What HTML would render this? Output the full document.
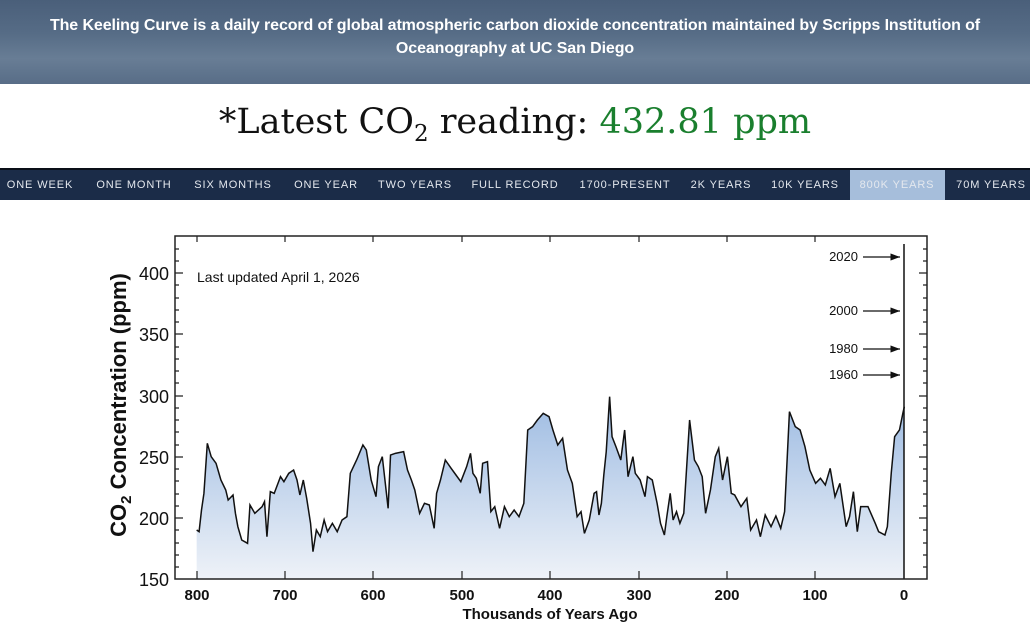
<!DOCTYPE html>
<html><head><meta charset="utf-8"><style>
*{margin:0;padding:0;box-sizing:border-box}
body{width:1030px;height:628px;background:#fff;position:relative;overflow:hidden;font-family:"Liberation Sans",sans-serif}
.hdr{position:absolute;left:0;top:0;width:1030px;height:84px;background:linear-gradient(180deg,#4a5f7a 0%,#566c86 40%,#687d95 70%,#586d87 100%)}
.hdr p{position:absolute;left:0;width:1030px;top:14px;text-align:center;color:#fff;font-weight:bold;font-size:16px;line-height:23px;letter-spacing:-0.1px}
.latest{position:absolute;top:102px;left:0;width:1030px;text-align:center;font-family:"DejaVu Serif",serif;font-size:35px;color:#111}
.latest .g{color:#1a7f2e}
.latest sub{font-size:23px}
.nav{position:absolute;top:168px;left:0;width:1030px;height:32px;background:#1b2c48;border-top:2px solid #0a0f18}
.nav span{position:absolute;top:9px;color:#e4e8ee;font-size:11px;letter-spacing:0.9px;transform:translateX(-50%);white-space:nowrap}
.act{position:absolute;left:850px;top:0;width:95px;height:30px;background:#a6bedb}
</style></head><body>
<div class="hdr"><p>The Keeling Curve is a daily record of global atmospheric carbon dioxide concentration maintained by Scripps Institution of<br>Oceanography at UC San Diego</p></div>
<div class="latest">*Latest CO<sub>2</sub> reading: <span class="g">432.81 ppm</span></div>
<div class="nav"><div class="act"></div>
<span style="left:40px">ONE WEEK</span><span style="left:134px">ONE MONTH</span><span style="left:233px">SIX MONTHS</span><span style="left:326px">ONE YEAR</span><span style="left:415px">TWO YEARS</span><span style="left:515px">FULL RECORD</span><span style="left:625px">1700-PRESENT</span><span style="left:721px">2K YEARS</span><span style="left:805px">10K YEARS</span><span style="left:897px">800K YEARS</span><span style="left:991px">70M YEARS</span>
</div>
<svg width="1030" height="628" style="position:absolute;left:0;top:0" font-family="Liberation Sans, sans-serif">
<defs><linearGradient id="gr" x1="0" y1="0" x2="0" y2="1"><stop offset="0" stop-color="#9dbbe2"/><stop offset="1" stop-color="#eef2f8"/></linearGradient>
<marker id="ar" markerWidth="8" markerHeight="6" refX="8" refY="3" orient="auto"><path d="M0,0 L8,3 L0,6 Z" fill="#111"/></marker></defs>
<g transform="translate(170,380) scale(0.4847,0.33333)">
<polygon fill="url(#gr)" points="55,597 55,450 60,455 65,390 70,340 77,190 85,230 95,250 105,300 115,330 120,360 130,345 135,400 140,440 148,480 160,490 165,375 175,400 190,380 195,365 200,470 207,335 215,340 228,290 235,305 245,280 255,270 262,300 268,345 275,300 282,355 290,430 295,515 302,450 310,470 318,420 325,455 335,430 345,455 355,420 365,410 372,280 385,240 398,195 405,210 415,300 425,350 430,260 438,230 445,320 450,385 455,225 465,220 482,215 490,270 498,300 505,330 515,400 525,370 535,375 545,445 550,340 558,300 568,240 580,265 590,285 600,305 612,260 620,220 625,280 632,295 640,340 645,250 655,245 662,395 670,380 680,445 690,380 700,410 710,390 720,410 730,370 738,150 748,140 758,120 770,100 782,110 790,150 800,195 810,175 820,270 830,310 840,410 848,395 855,460 865,420 875,340 880,335 885,405 890,370 895,285 900,215 907,50 912,170 920,200 930,240 938,150 945,290 955,230 960,280 970,300 980,350 985,290 995,300 1005,370 1012,430 1020,465 1025,410 1032,340 1038,420 1045,395 1052,430 1060,400 1072,120 1082,240 1090,260 1098,290 1105,400 1115,330 1125,230 1132,205 1140,300 1150,230 1158,340 1165,345 1178,380 1190,355 1198,450 1210,420 1218,470 1228,405 1240,440 1250,408 1260,445 1268,395 1278,95 1290,140 1300,150 1310,200 1320,270 1332,310 1342,295 1352,315 1362,265 1372,350 1382,310 1395,440 1402,410 1410,335 1418,455 1425,380 1440,380 1455,430 1462,455 1475,465 1480,440 1488,280 1495,170 1505,150 1512,100 1515,80 1515,597"/>
<polyline fill="none" stroke="#111" stroke-width="1.5" vector-effect="non-scaling-stroke" points="55,450 60,455 65,390 70,340 77,190 85,230 95,250 105,300 115,330 120,360 130,345 135,400 140,440 148,480 160,490 165,375 175,400 190,380 195,365 200,470 207,335 215,340 228,290 235,305 245,280 255,270 262,300 268,345 275,300 282,355 290,430 295,515 302,450 310,470 318,420 325,455 335,430 345,455 355,420 365,410 372,280 385,240 398,195 405,210 415,300 425,350 430,260 438,230 445,320 450,385 455,225 465,220 482,215 490,270 498,300 505,330 515,400 525,370 535,375 545,445 550,340 558,300 568,240 580,265 590,285 600,305 612,260 620,220 625,280 632,295 640,340 645,250 655,245 662,395 670,380 680,445 690,380 700,410 710,390 720,410 730,370 738,150 748,140 758,120 770,100 782,110 790,150 800,195 810,175 820,270 830,310 840,410 848,395 855,460 865,420 875,340 880,335 885,405 890,370 895,285 900,215 907,50 912,170 920,200 930,240 938,150 945,290 955,230 960,280 970,300 980,350 985,290 995,300 1005,370 1012,430 1020,465 1025,410 1032,340 1038,420 1045,395 1052,430 1060,400 1072,120 1082,240 1090,260 1098,290 1105,400 1115,330 1125,230 1132,205 1140,300 1150,230 1158,340 1165,345 1178,380 1190,355 1198,450 1210,420 1218,470 1228,405 1240,440 1250,408 1260,445 1268,395 1278,95 1290,140 1300,150 1310,200 1320,270 1332,310 1342,295 1352,315 1362,265 1372,350 1382,310 1395,440 1402,410 1410,335 1418,455 1425,380 1440,380 1455,430 1462,455 1475,465 1480,440 1488,280 1495,170 1505,150 1512,100 1515,80"/>
</g>
<line x1="904" y1="244" x2="904" y2="579" stroke="#111" stroke-width="1.5"/>
<rect x="175" y="236" width="752" height="343" fill="none" stroke="#222" stroke-width="1.5"/>
<g stroke="#222" stroke-width="1.2">
<path d="M175,273h8M175,334h8M175,396h8M175,457h8M175,518h8M927,273h-8M927,334h-8M927,396h-8M927,457h-8M927,518h-8"/>
<path d="M175,261h4M175,249h4M175,285h4M175,298h4M175,310h4M175,322h4M175,347h4M175,359h4M175,371h4M175,383h4M175,408h4M175,420h4M175,432h4M175,445h4M175,469h4M175,481h4M175,494h4M175,506h4M175,530h4M175,543h4M175,555h4M175,567h4"/>
<path d="M927,261h-4M927,249h-4M927,285h-4M927,298h-4M927,310h-4M927,322h-4M927,347h-4M927,359h-4M927,371h-4M927,383h-4M927,408h-4M927,420h-4M927,432h-4M927,445h-4M927,469h-4M927,481h-4M927,494h-4M927,506h-4M927,530h-4M927,543h-4M927,555h-4M927,567h-4"/>
<path d="M197,579v-8M285,579v-8M373,579v-8M462,579v-8M550,579v-8M639,579v-8M727,579v-8M815,579v-8M904,579v-8M197,236v6M285,236v6M373,236v6M462,236v6M550,236v6M639,236v6M727,236v6M815,236v6"/>
</g>
<g font-size="18" fill="#111" text-anchor="end">
<text x="169" y="280">400</text><text x="169" y="341">350</text><text x="169" y="403">300</text><text x="169" y="464">250</text><text x="169" y="525">200</text><text x="169" y="586">150</text></g>
<g font-size="15" font-weight="bold" fill="#111" text-anchor="middle">
<text x="197" y="600">800</text><text x="285" y="600">700</text><text x="373" y="600">600</text><text x="462" y="600">500</text><text x="550" y="600">400</text><text x="639" y="600">300</text><text x="727" y="600">200</text><text x="815" y="600">100</text><text x="904" y="600">0</text></g>
<text x="550" y="619" font-size="15" font-weight="bold" text-anchor="middle" fill="#111">Thousands of Years Ago</text>
<text transform="translate(126,405) rotate(-90)" font-size="22" font-weight="bold" text-anchor="middle" fill="#111">CO<tspan font-size="15" dy="5">2</tspan><tspan dy="-5"> Concentration (ppm)</tspan></text>
<text x="197" y="282" font-size="14" fill="#111">Last updated April 1, 2026</text>
<g font-size="13" fill="#111" text-anchor="end">
<text x="858" y="261">2020</text><text x="858" y="315">2000</text><text x="858" y="353">1980</text><text x="858" y="379">1960</text></g>
<g stroke="#111" stroke-width="1.2" marker-end="url(#ar)">
<line x1="863" y1="257" x2="900" y2="257"/><line x1="863" y1="311" x2="900" y2="311"/><line x1="863" y1="349" x2="900" y2="349"/><line x1="863" y1="375" x2="900" y2="375"/></g>
</svg>
</body></html>
